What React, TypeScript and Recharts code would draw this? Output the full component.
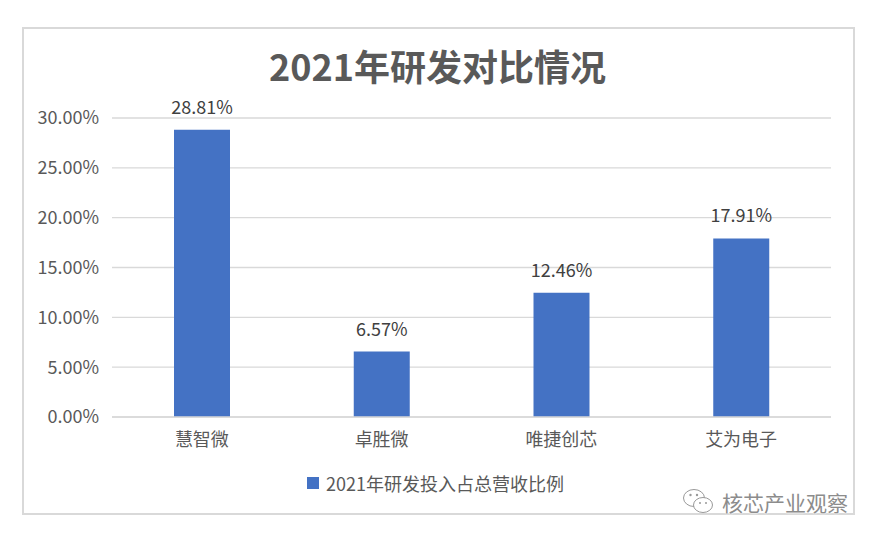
import { BarChart, Bar, XAxis, YAxis, CartesianGrid, LabelList } from "recharts";

const companies = ["慧智微", "卓胜微", "唯捷创芯", "艾为电子"];
const rdRatio = [28.81, 6.57, 12.46, 17.91];
const yTicks = [0, 5, 10, 15, 20, 25, 30];
const seriesName = "2021年研发投入占总营收比例";
const title = "2021年研发对比情况";

const data = companies.map((name, i) => ({ name, value: rdRatio[i] }));
const FONT = '"Noto Sans CJK SC", "Noto Sans", sans-serif';

const WeChatIcon = () => (
  <svg width="34" height="30" viewBox="0 0 34 30">
    <ellipse cx="12" cy="11" rx="10.5" ry="8.5" fill="#fff" stroke="#999" strokeWidth="1" />
    <ellipse cx="21" cy="18" rx="9.5" ry="7.5" fill="#fff" stroke="#999" strokeWidth="1" />
    <circle cx="8.5" cy="8" r="1.2" fill="#999" />
    <circle cx="15" cy="8" r="1.2" fill="#999" />
    <circle cx="18" cy="16" r="1" fill="#999" />
    <circle cx="24" cy="16" r="1" fill="#999" />
  </svg>
);

export default function App() {
  return (
    <div style={{ position: "absolute", left: 0, top: 0, width: 875, height: 541, background: "#fff", fontFamily: FONT }}>
      <div
        style={{
          position: "absolute",
          left: 22,
          top: 27,
          width: 829,
          height: 484,
          border: "2px solid #d9d9d9",
        }}
      />
      <div
        style={{
          position: "absolute",
          left: 0,
          width: 875,
          top: 42,
          textAlign: "center",
          fontSize: 36,
          fontWeight: "bold",
          color: "#595959",
          lineHeight: "46px",
        }}
      >
        {title}
      </div>
      <BarChart
        width={875}
        height={541}
        data={data}
        margin={{ top: 118, right: 44, bottom: 94, left: 0 }}
        style={{ position: "absolute", left: 0, top: 0 }}
      >
        <CartesianGrid vertical={false} stroke="#d9d9d9" strokeWidth={1.3} />
        <XAxis
          dataKey="name"
          height={30}
          axisLine={{ stroke: "#d9d9d9", strokeWidth: 1.3 }}
          tickLine={false}
          tickSize={0}
          tickMargin={16}
          tick={{ fill: "#595959", fontSize: 18, fontFamily: FONT }}
        />
        <YAxis
          width={112}
          domain={[0, 30]}
          ticks={yTicks}
          axisLine={false}
          tickLine={false}
          tickSize={0}
          tickMargin={13}
          tickFormatter={(v: number) => `${v.toFixed(2)}%`}
          tick={{ fill: "#595959", fontSize: 18, fontFamily: FONT }}
        />
        <Bar dataKey="value" name={seriesName} fill="#4472c4" barSize={56} isAnimationActive={false}>
          <LabelList
            dataKey="value"
            position="top"
            offset={16}
            formatter={(v: number) => `${v.toFixed(2)}%`}
            style={{ fill: "#404040", fontSize: 18, fontFamily: FONT }}
          />
        </Bar>
      </BarChart>
      <div
        style={{
          position: "absolute",
          left: 307,
          top: 471,
          display: "flex",
          alignItems: "center",
          fontSize: 18,
          color: "#595959",
          lineHeight: "24px",
        }}
      >
        <span style={{ display: "inline-block", width: 12, height: 12, background: "#4472c4", marginRight: 7 }} />
        {seriesName}
      </div>
      <div
        style={{
          position: "absolute",
          left: 682,
          top: 487,
          display: "flex",
          alignItems: "center",
          fontSize: 21,
          color: "#8c8c8c",
          lineHeight: "30px",
          textShadow: "0 0 2px #fff, 0 0 2px #fff",
        }}
      >
        <WeChatIcon />
        <span style={{ marginLeft: 6 }}>核芯产业观察</span>
      </div>
    </div>
  );
}
